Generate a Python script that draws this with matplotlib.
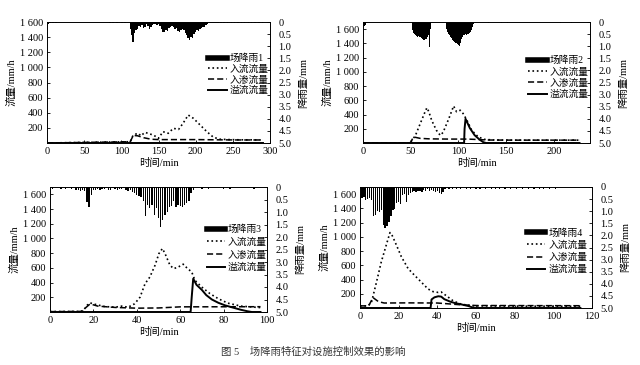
import matplotlib.pyplot as plt
from matplotlib.lines import Line2D
from matplotlib.ticker import FuncFormatter

plt.rcParams['font.family'] = ['Liberation Serif', 'Noto Sans CJK SC']
plt.rcParams['axes.linewidth'] = 0.6

# ---- rain 1 (mm per 2 min step) ----
rain1_t = [0, 2, 4, 8, 12, 85, 89, 94, 101, 105,
           112, 114, 116, 118, 120, 122, 124, 126, 128, 130, 132, 134, 136, 138, 140,
           142, 144, 146, 148, 150, 152, 154, 156, 158, 160, 162, 164, 166, 168, 170,
           172, 174, 176, 178, 180, 182, 184, 186, 188, 190, 192, 194, 196, 198, 200,
           202, 204, 206, 208, 210, 212, 214, 216, 218, 220, 222, 224, 226, 228, 230,
           234, 238, 243, 248, 252, 257, 262, 266, 271, 275, 280, 285, 290]
rain1_v = [0.06, 0.08, 0.05, 0.06, 0.05, 0.05, 0.05, 0.05, 0.05, 0.05,
           0.30, 0.55, 0.83, 0.45, 0.35, 0.30, 0.15, 0.20, 0.12, 0.25, 0.20, 0.10, 0.18, 0.30, 0.20,
           0.12, 0.08, 0.10, 0.12, 0.08, 0.15, 0.30, 0.40, 0.42, 0.35, 0.38, 0.25, 0.20, 0.15, 0.22,
           0.30, 0.25, 0.38, 0.40, 0.32, 0.28, 0.35, 0.45, 0.55, 0.65, 0.74, 0.60, 0.68, 0.50, 0.42,
           0.35, 0.38, 0.30, 0.25, 0.20, 0.22, 0.12, 0.10, 0.06, 0.05, 0.04, 0.05, 0.03, 0.04, 0.03,
           0.05, 0.05, 0.05, 0.05, 0.05, 0.05, 0.05, 0.05, 0.05, 0.05, 0.05, 0.05, 0.05]

in1_t = [0, 112, 116, 120, 123, 126, 132, 138, 143, 150, 156, 163, 170, 177, 183, 190, 193,
         197, 206, 215, 224, 233, 245, 260, 275, 290]
in1_v = [0, 17, 106, 120, 128, 95, 141, 120, 106, 62, 150, 128, 194, 180, 260, 370, 350,
         326, 238, 150, 75, 50, 45, 42, 42, 40]
inf1_t = [0, 112, 116, 122, 130, 140, 150, 200, 230, 260, 290]
inf1_v = [0, 17, 100, 95, 70, 50, 45, 45, 42, 40, 40]
ov1_t = [0, 290]
ov1_v = [0, 0]

# ---- rain 2 (mm per min) ----
rain2_t = [0, 1, 2, 3, 4] + list(range(5, 52)) + list(range(52, 72)) + list(range(72, 88)) \
    + list(range(88, 117)) + list(range(117, 131)) + [132, 145, 152, 207, 219]
rain2_v = [0.15, 0.20, 0.18, 0.12, 0.05] + [0.02] * 47 + \
    [0.35, 0.45, 0.50, 0.55, 0.58, 0.60, 0.58, 0.60, 0.62, 0.68,
     0.72, 0.75, 0.74, 0.76, 0.72, 0.70, 0.62, 0.55, 1.05, 0.30] + [0.02] * 16 + \
    [0.30, 0.40, 0.48, 0.55, 0.62, 0.68, 0.75, 0.80, 0.82, 0.85,
     0.88, 0.90, 0.95, 0.98, 0.85, 0.72, 0.62, 0.55, 0.52, 0.50,
     0.50, 0.52, 0.50, 0.48, 0.45, 0.40, 0.32, 0.22, 0.10] + [0.02] * 14 + \
    [0.05, 0.05, 0.05, 0.05, 0.05]

in2_t = [0, 49, 50, 55, 60, 65, 67, 69, 72, 77, 81, 84, 90, 95, 98, 102, 105, 109, 114,
         121, 128, 138, 160, 190, 227]
in2_v = [0, 0, 13, 107, 272, 436, 495, 440, 319, 178, 107, 150, 343, 520, 440, 460, 413,
         319, 178, 83, 50, 42, 40, 40, 40]
inf2_t = [0, 49, 50, 53, 60, 70, 90, 110, 122, 130, 160, 227]
inf2_v = [0, 0, 13, 85, 65, 58, 55, 55, 48, 42, 40, 40]
ov2_t = [0, 106, 106.5, 107.5, 112, 117, 122, 126, 129, 227]
ov2_v = [0, 0, 200, 340, 210, 110, 50, 12, 0, 0]

# ---- rain 3 (mm per min) ----
rain3_t = list(range(0, 67)) + [70, 73, 80, 83, 94]
rain3_v = [0, 0.08, 0, 0, 0, 0.08, 0, 0.08, 0, 0,
           0.06, 0, 0.10, 0.12, 0.15, 0.12, 0.15, 0.60, 0.80, 0.30,
           0.12, 0.10, 0.08, 0.10, 0.06, 0.08, 0.05, 0.10, 0.12, 0.05,
           0.08, 0.10, 0.06, 0.08, 0.05, 0.12, 0.15, 0.10, 0.20, 0.25,
           0.30, 0.35, 0.40, 0.55, 1.15, 0.70, 0.85, 0.70, 1.10, 0.85,
           1.25, 1.60, 1.30, 1.10, 1.00, 0.80, 0.75, 0.55, 0.80, 0.70,
           0.75, 0.80, 0.70, 0.65, 0.55, 0.25, 0.10] + [0.06] * 5

in3_t = [0, 14, 15.4, 17, 18.4, 20, 25, 30, 33, 36, 39, 41.5, 43.8, 46, 48.4, 50.2, 51.8,
         53, 55.3, 57, 59, 61.4, 63.4, 65.3, 66.8, 69.9, 73.7, 77.6, 82, 88, 94.5, 97]
in3_v = [5, 8, 20, 89, 125, 110, 75, 65, 80, 65, 112, 202, 385, 475, 635, 795, 863,
         795, 635, 590, 610, 650, 590, 545, 430, 340, 250, 180, 120, 80, 65, 60]
inf3_t = [0, 15, 16.5, 18.5, 22, 30, 40, 50, 60, 97]
inf3_v = [5, 8, 60, 110, 80, 62, 52, 55, 70, 72]
ov3_t = [0, 64.8, 65.3, 66, 67.5, 70, 72, 74.6, 77.6, 80.7, 83.7, 88, 91, 93, 97]
ov3_v = [0, 0, 200, 453, 370, 300, 230, 170, 125, 90, 65, 30, 10, 0, 0]

# ---- rain 4 (mm per min) ----
rain4_t = list(range(1, 45)) + [46, 48, 50, 52, 55, 57, 60, 62, 65, 68, 70, 72, 75, 78, 81,
                                84, 87, 90, 93, 95, 98, 101]
rain4_v = [0.45, 0.40, 0.55, 0.50, 0.45, 0.55, 1.20, 1.15, 1.00, 1.05,
           0.95, 1.55, 1.70, 1.60, 1.45, 1.20, 0.95, 0.90, 0.65, 0.60,
           0.70, 0.35, 0.30, 0.60, 0.35, 0.25, 0.20, 0.15, 0.20, 0.18,
           0.15, 0.20, 0.12, 0.15, 0.10, 0.18, 0.12, 0.15, 0.20, 0.18,
           0.25, 0.30, 0.20, 0.10] + [0.08] * 22

in4_t = [0, 4, 5.9, 8.5, 11, 13.6, 15.5, 16.3, 18.8, 21.4, 24.9, 28.3, 31.8, 35.2, 37.8,
         40.4, 42, 44.7, 48.2, 52.5, 59, 70, 90, 114]
in4_v = [30, 30, 76, 361, 647, 886, 1060, 1040, 886, 720, 553, 457, 361, 267, 230,
         219, 225, 171, 100, 52, 30, 28, 25, 25]
inf4_t = [0, 4.5, 6.7, 9.5, 12.5, 25, 40, 45, 52, 60, 114]
inf4_v = [30, 30, 147, 90, 70, 72, 70, 60, 45, 35, 32]
ov4_t = [0, 36.5, 37, 38.5, 40.5, 42, 43.6, 46.6, 49, 52.5, 56, 59, 114]
ov4_v = [0, 0, 120, 150, 165, 160, 124, 90, 70, 50, 28, 0, 0]

rain_names = ['场降雨1', '场降雨2', '场降雨3', '场降雨4']
flow_names = ['入流流量', '入渗流量', '溢流流量']
rain_ticks = [0, 0.5, 1.0, 1.5, 2.0, 2.5, 3.0, 3.5, 4.0, 4.5, 5.0]


def thousands(v, pos):
    return f"{int(v):,}".replace(",", " ")


def rain_fmt(v, pos):
    return "0" if v == 0 else f"{v:.1f}"


def panel(rect, rt, rv, bw, flows, xmax, xticks, ymax, name, anchor, spacing):
    ax = fig.add_axes(rect)
    lines = []
    (it, iv), (ft, fv), (ot, ov) = flows
    lines += ax.plot(it, iv, color='k', ls=':', lw=1.2)
    lines += ax.plot(ft, fv, color='k', ls=(0, (4, 2)), lw=1.1)
    lines += ax.plot(ot, ov, color='k', ls='-', lw=1.4)
    ax.set_xlim(0, xmax)
    ax.set_ylim(0, ymax)
    ax.set_xticks(xticks)
    ax.set_yticks(range(200, 1601, 200))
    ax.yaxis.set_major_formatter(FuncFormatter(thousands))
    ax.tick_params(direction='in', labelsize=7.5, length=2.5, width=0.6, pad=3)
    ax.set_xlabel('时间/min', fontsize=7.5, labelpad=1)
    ax.set_ylabel('流量/mm/h', fontsize=7.5, labelpad=2)

    ax2 = ax.twinx()
    ax2.bar(rt, rv, width=bw, color='k', linewidth=0)
    ax2.set_ylim(5, 0)
    ax2.set_yticks(rain_ticks)
    ax2.yaxis.set_major_formatter(FuncFormatter(rain_fmt))
    ax2.tick_params(direction='in', labelsize=7.5, length=2.5, width=0.6, pad=6)
    ax2.set_ylabel('降雨量/mm', fontsize=7.5, rotation=90, labelpad=5)

    handles = [Line2D([], [], color='k', lw=4)] + lines
    ax2.legend(handles, [name] + flow_names, loc='upper right', bbox_to_anchor=anchor,
               frameon=False, fontsize=7, handlelength=1.9, handletextpad=0.3,
               labelspacing=spacing, borderpad=0, borderaxespad=0)


fig = plt.figure(figsize=(6.4, 3.65), dpi=100)

panel([47 / 640, 1 - 143 / 365, 223 / 640, 121 / 365], rain1_t, rain1_v, 2.0,
      [(in1_t, in1_v), (inf1_t, inf1_v), (ov1_t, ov1_v)],
      300, [0, 50, 100, 150, 200, 250, 300], 1600, rain_names[0], (0.995, 0.74), 0.15)
panel([363 / 640, 1 - 143 / 365, 227 / 640, 121 / 365], rain2_t, rain2_v, 1.0,
      [(in2_t, in2_v), (inf2_t, inf2_v), (ov2_t, ov2_v)],
      238, [0, 50, 100, 150, 200], 1700, rain_names[1], (0.995, 0.72), 0.2)
panel([50 / 640, 1 - 312 / 365, 217 / 640, 125 / 365], rain3_t, rain3_v, 0.6,
      [(in3_t, in3_v), (inf3_t, inf3_v), (ov3_t, ov3_v)],
      100, [0, 20, 40, 60, 80, 100], 1700, rain_names[2], (1.0, 0.70), 0.35)
panel([360 / 640, 1 - 308 / 365, 232 / 640, 121 / 365], rain4_t, rain4_v, 0.7,
      [(in4_t, in4_v), (inf4_t, inf4_v), (ov4_t, ov4_v)],
      120, [0, 20, 40, 60, 80, 100, 120], 1700, rain_names[3], (0.98, 0.66), 0.3)

fig.text(0.49, 1 - 352 / 365, '图 5    场降雨特征对设施控制效果的影响', fontsize=7.5,
         color='#333333', ha='center', va='center')

fig.savefig('out.png', dpi=100)
